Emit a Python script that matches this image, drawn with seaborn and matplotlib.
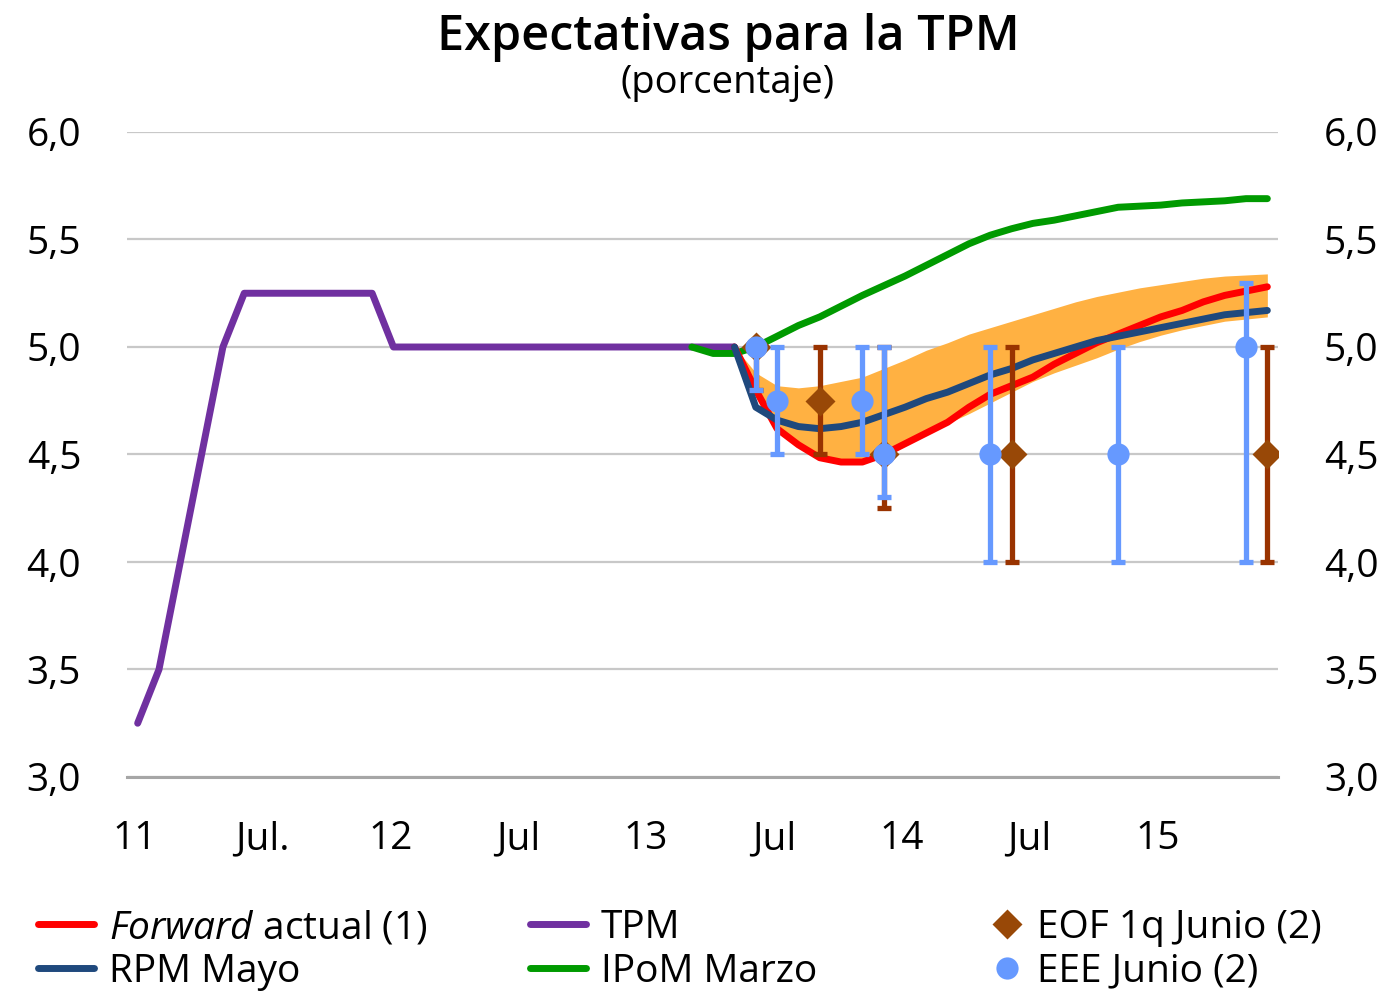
import matplotlib
matplotlib.use("Agg")
import matplotlib.pyplot as plt
import seaborn as sns
import numpy as np

# ---------------- data (monthly, mid-month positions) ----------------
tpm_start = "2011-01"
tpm = [3.25, 3.50, 4.00, 4.50, 5.00, 5.25, 5.25, 5.25, 5.25, 5.25, 5.25, 5.25,
       5.00, 5.00, 5.00, 5.00, 5.00, 5.00, 5.00, 5.00, 5.00, 5.00, 5.00, 5.00,
       5.00, 5.00, 5.00, 5.00, 5.00]

ipom_start = "2013-03"
ipom_marzo = [5.00, 4.97, 4.97, 5.00, 5.05, 5.10, 5.14, 5.19, 5.24, 5.285,
              5.33, 5.38, 5.43, 5.48, 5.52, 5.55, 5.575, 5.59, 5.61, 5.63,
              5.65, 5.655, 5.66, 5.67, 5.675, 5.68, 5.69, 5.69]

fwd_start = "2013-05"
forward_actual = [5.00, 4.80, 4.62, 4.545, 4.485, 4.465, 4.465, 4.50, 4.55, 4.60,
                  4.65, 4.72, 4.78, 4.82, 4.86, 4.92, 4.97, 5.02, 5.06, 5.10,
                  5.14, 5.17, 5.21, 5.24, 5.26, 5.28]
rpm_mayo = [5.00, 4.72, 4.66, 4.63, 4.62, 4.63, 4.65, 4.685, 4.72, 4.76,
            4.79, 4.83, 4.87, 4.90, 4.94, 4.97, 5.00, 5.03, 5.05, 5.07,
            5.09, 5.11, 5.13, 5.15, 5.16, 5.17]
band_high = [5.00, 4.88, 4.82, 4.81, 4.82, 4.84, 4.86, 4.90, 4.94, 4.985,
             5.02, 5.06, 5.09, 5.12, 5.15, 5.18, 5.21, 5.235, 5.255, 5.275,
             5.29, 5.305, 5.32, 5.33, 5.335, 5.34]
band_low = [5.00, 4.80, 4.63, 4.55, 4.49, 4.47, 4.47, 4.50, 4.55, 4.60,
            4.645, 4.69, 4.74, 4.79, 4.84, 4.88, 4.915, 4.95, 4.99, 5.025,
            5.055, 5.08, 5.10, 5.12, 5.13, 5.14]

eof_months = ["2013-06", "2013-09", "2013-12", "2014-06", "2015-06"]
eof_value = [5.00, 4.75, 4.50, 4.50, 4.50]
eof_low = [4.80, 4.50, 4.25, 4.00, 4.00]
eof_high = [5.00, 5.00, 5.00, 5.00, 5.00]

eee_months = ["2013-06", "2013-07", "2013-11", "2013-12", "2014-05", "2014-11", "2015-05"]
eee_value = [5.00, 4.75, 4.75, 4.50, 4.50, 4.50, 5.00]
eee_low = [4.80, 4.50, 4.50, 4.30, 4.00, 4.00, 4.00]
eee_high = [5.00, 5.00, 5.00, 5.00, 5.00, 5.00, 5.30]

x_tick_labels = ["11", "Jul.", "12", "Jul", "13", "Jul", "14", "Jul", "15"]
y_ticks = [3.0, 3.5, 4.0, 4.5, 5.0, 5.5, 6.0]


def month_pos(ym):
    y, m = (int(v) for v in ym.split("-"))
    return (y - 2011) * 12 + (m - 1) + 0.5


def series_pos(start, n):
    return month_pos(start) + np.arange(n)


# ---------------- style ----------------
sns.set_theme(style="white")
plt.rcParams["font.family"] = ["Open Sans", "DejaVu Sans"]
plt.rcParams["mathtext.fontset"] = "custom"
plt.rcParams["mathtext.rm"] = "Open Sans"
plt.rcParams["mathtext.it"] = "Open Sans:italic"
plt.rcParams["text.color"] = "black"

C_FWD = "#FF0000"
C_RPM = "#1F497D"
C_IPOM = "#009A00"
C_TPM = "#7030A0"
C_BAND = "#FFB142"
C_EEE = "#6699FF"
C_EOF = "#984807"
C_EOF_BAR = "#993300"

fig = plt.figure(figsize=(13.91, 9.97), dpi=100)
ax = fig.add_axes([127 / 1391, 1 - 777 / 997, (1278 - 127) / 1391, (777 - 132) / 997])

LW = 5.0
x_fwd = series_pos(fwd_start, len(forward_actual))
ax.fill_between(x_fwd, band_low, band_high, color=C_BAND, lw=0, zorder=1)

line_kw = dict(lw=LW, solid_capstyle="round", solid_joinstyle="round", zorder=3)
sns.lineplot(x=series_pos(tpm_start, len(tpm)), y=tpm, ax=ax, color=C_TPM, label="TPM", **line_kw)
sns.lineplot(x=series_pos(ipom_start, len(ipom_marzo)), y=ipom_marzo, ax=ax, color=C_IPOM,
             label="IPoM Marzo", **line_kw)
sns.lineplot(x=x_fwd, y=forward_actual, ax=ax, color=C_FWD,
             label=r"$\mathit{Forward}$ actual (1)", **line_kw)
sns.lineplot(x=x_fwd, y=rpm_mayo, ax=ax, color=C_RPM, label="RPM Mayo", **line_kw)

# survey ranges
x_eof = np.array([month_pos(m) for m in eof_months])
v = np.array(eof_value)
ax.errorbar(x_eof, v, yerr=[v - np.array(eof_low), np.array(eof_high) - v], fmt="none",
            ecolor=C_EOF_BAR, elinewidth=3.8, capsize=4.8, capthick=3.8, zorder=4)
ax.plot(x_eof, v, ls="none", marker="D", ms=15, color=C_EOF, mec="none", zorder=5,
        label="EOF 1q Junio (2)")

x_eee = np.array([month_pos(m) for m in eee_months])
v = np.array(eee_value)
ax.errorbar(x_eee, v, yerr=[v - np.array(eee_low), np.array(eee_high) - v], fmt="none",
            ecolor=C_EEE, elinewidth=3.8, capsize=4.8, capthick=3.8, zorder=6)
ax.plot(x_eee, v, ls="none", marker="o", ms=16, color=C_EEE, mec="none", zorder=7,
        label="EEE Junio (2)")

# ---------------- axes ----------------
ax.set_xlim(0, 54)
ax.set_ylim(3.0, 6.0)
ax.set_xlabel("")
ax.set_ylabel("")
for s in ["left", "right", "top"]:
    ax.spines[s].set_visible(False)
ax.spines["bottom"].set_color("#A6A6A6")
ax.spines["bottom"].set_linewidth(2.2)

ax.set_yticks(y_ticks)
ax.set_yticklabels([f"{t:.1f}".replace(".", ",") for t in y_ticks])
ax.yaxis.grid(True, color="#C8C8C8", lw=1.6)
ax.set_axisbelow(True)
ax.tick_params(axis="y", length=0, labelsize=28, labelleft=True, labelright=True,
               pad=33, labelcolor="black")

ax.set_xticks(np.arange(0, 55, 6))
ax.set_xticklabels([])
ax.set_xticks(np.arange(0, 49, 6) + 0.35, minor=True)
ax.set_xticklabels(x_tick_labels, minor=True)
ax.tick_params(axis="x", which="major", length=9, width=2.2, color="#A6A6A6", direction="out")
ax.tick_params(axis="x", which="minor", length=0, labelsize=28, pad=31, labelcolor="black")

# ---------------- titles ----------------
fig.text(728 / 1391, 1 - 50 / 997, "Expectativas para la TPM", ha="center", va="baseline",
         fontsize=35, fontweight="semibold", color="black")
fig.text(728 / 1391, 1 - 93 / 997, "(porcentaje)", ha="center", va="baseline", fontsize=27.5,
         color="black")

# ---------------- legend ----------------
handles, labels = ax.get_legend_handles_labels()
ax.get_legend().remove()
h = dict(zip(labels, handles))
leg_kw = dict(frameon=False, fontsize=28, handlelength=1.45, handletextpad=0.37,
              labelspacing=0.15, borderaxespad=0, borderpad=0, labelcolor="black")
lab_fwd = r"$\mathit{Forward}$ actual (1)"
fig.legend([h[lab_fwd], h["RPM Mayo"]], [lab_fwd, "RPM Mayo"], loc="upper left",
           bbox_to_anchor=(38 / 1391, 1 - 909 / 997), **leg_kw)
fig.legend([h["TPM"], h["IPoM Marzo"]], ["TPM", "IPoM Marzo"], loc="upper left",
           bbox_to_anchor=(530 / 1391, 1 - 909 / 997), **leg_kw)
leg_kw3 = dict(leg_kw, handlelength=1.0, handletextpad=0.25)
fig.legend([h["EOF 1q Junio (2)"], h["EEE Junio (2)"]], ["EOF 1q Junio (2)", "EEE Junio (2)"],
           loc="upper left", bbox_to_anchor=(988 / 1391, 1 - 909 / 997), **leg_kw3)

fig.savefig("out.png", dpi=100)
